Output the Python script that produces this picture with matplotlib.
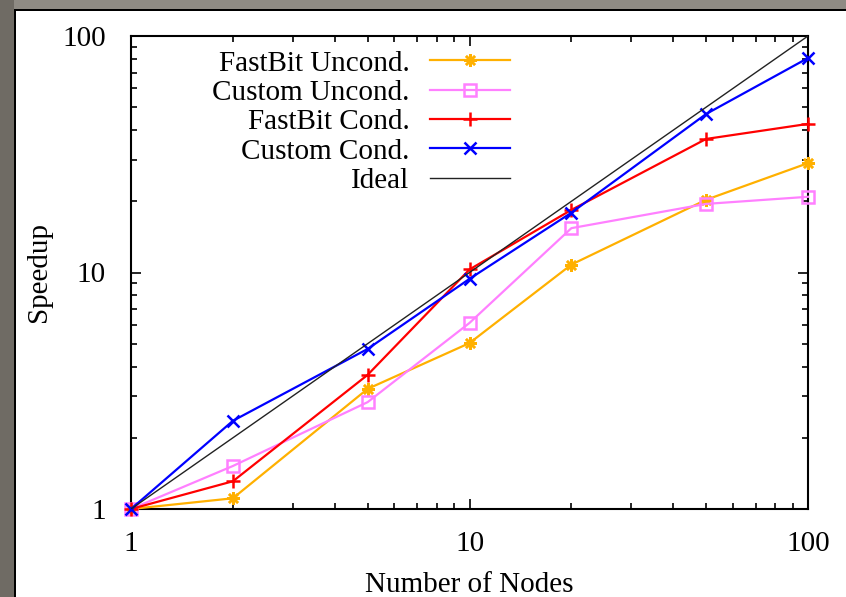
import matplotlib
matplotlib.use("Agg")
import matplotlib.pyplot as plt
from matplotlib.patches import Rectangle
from matplotlib.ticker import LogLocator, NullFormatter, FixedLocator, FixedFormatter

# ── Dati ──────────────────────────────────────────────────────────────────────
nodes = [1, 2, 5, 10, 20, 50, 100]
fastbit_uncond = [1, 1.11, 3.22, 5.03, 10.8, 20.3, 29.0]
custom_uncond = [1, 1.52, 2.83, 6.12, 15.4, 19.5, 20.9]
fastbit_cond = [1, 1.31, 3.69, 10.3, 18.4, 36.7, 42.5]
custom_cond = [1, 2.36, 4.75, 9.4, 17.9, 46.8, 80.7]
ideal = [1, 100]
ideal_nodes = [1, 100]

tick_vals = [1, 10, 100]
tick_labels = ["1", "10", "100"]

plt.rcParams["font.family"] = ["Liberation Serif", "DejaVu Serif"]
FS = 21

W, H = 846, 597
fig = plt.figure(figsize=(W / 100, H / 100), dpi=100, facecolor="white")

# cornice grigia stile slide
fig.add_artist(Rectangle((0, 0), 14 / W, 1, transform=fig.transFigure,
                         facecolor="#6f6b64", edgecolor="none", zorder=0))
fig.add_artist(Rectangle((14 / W, (H - 9) / H), 1, 9 / H, transform=fig.transFigure,
                         facecolor="#8f8b84", edgecolor="none", zorder=0))
fig.add_artist(Rectangle((14 / W, 0), 2 / W, (H - 9) / H, transform=fig.transFigure,
                         facecolor="black", edgecolor="none", zorder=0))
fig.add_artist(Rectangle((14 / W, (H - 11) / H), 1, 2 / H, transform=fig.transFigure,
                         facecolor="black", edgecolor="none", zorder=0))

ax = fig.add_axes([131 / W, 88 / H, 677 / W, 473 / H])

series = [
    (fastbit_uncond, "FastBit Uncond.", "#ffb000", (8, 2, 0), 9, "full"),
    (custom_uncond, "Custom Uncond.", "#ff80ff", "s", 8, "none"),
    (fastbit_cond, "FastBit Cond.", "#ff0000", "+", 10, "full"),
    (custom_cond, "Custom Cond.", "#0000ff", "x", 9, "full"),
]
for vals, lab, col, mk, ms, fill in series:
    ax.plot(nodes, vals, color=col, lw=1.6, marker=mk, ms=ms, mew=1.8,
            fillstyle=fill, label=lab, clip_on=False, zorder=3)
ax.plot(ideal_nodes, ideal, color="#222222", lw=1.0, label="Ideal", zorder=4)

ax.set_xscale("log")
ax.set_yscale("log")
ax.set_xlim(1, 100)
ax.set_ylim(1, 100)

for axis in (ax.xaxis, ax.yaxis):
    axis.set_major_locator(FixedLocator(tick_vals))
    axis.set_major_formatter(FixedFormatter(tick_labels))
    axis.set_minor_locator(LogLocator(base=10, subs=range(2, 10)))
    axis.set_minor_formatter(NullFormatter())

ax.tick_params(which="both", direction="in", top=True, right=True,
               labelsize=FS, width=1.2, color="black")
ax.tick_params(which="major", length=7)
ax.tick_params(which="minor", length=4)
ax.tick_params(axis="x", pad=16)
ax.tick_params(axis="y", pad=18)
for s in ax.spines.values():
    s.set_linewidth(1.5)

ax.set_xlabel("Number of Nodes", fontsize=FS)
ax.set_ylabel("Speedup", fontsize=FS)
ax.xaxis.set_label_coords(0.5, -0.133)
ax.yaxis.set_label_coords(-0.117, 0.5)

leg = ax.legend(loc="upper right", bbox_to_anchor=(0.56, 0.97), frameon=False,
                markerfirst=False, fontsize=FS, handlelength=2.75,
                handletextpad=0.7, labelspacing=0.1, borderpad=0,
                borderaxespad=0, numpoints=1)

fig.savefig("out.png", dpi=100)
